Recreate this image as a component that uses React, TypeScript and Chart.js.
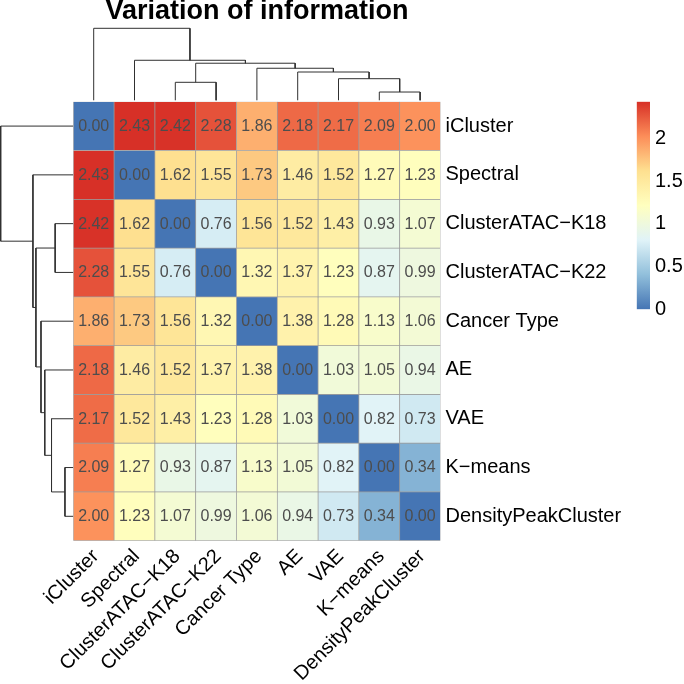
import React, { useEffect, useRef } from "react";
import { Chart, registerables } from "chart.js";

Chart.register(...registerables);
Chart.defaults.font.family = '"Liberation Sans", Arial, Helvetica, sans-serif';
Chart.defaults.color = "#000000";

// ---- data ----
const methodNames = [
  "iCluster",
  "Spectral",
  "ClusterATAC\u2212K18",
  "ClusterATAC\u2212K22",
  "Cancer Type",
  "AE",
  "VAE",
  "K\u2212means",
  "DensityPeakCluster",
];
const rowICluster = [0.0, 2.43, 2.42, 2.28, 1.86, 2.18, 2.17, 2.09, 2.0];
const rowSpectral = [2.43, 0.0, 1.62, 1.55, 1.73, 1.46, 1.52, 1.27, 1.23];
const rowK18 = [2.42, 1.62, 0.0, 0.76, 1.56, 1.52, 1.43, 0.93, 1.07];
const rowK22 = [2.28, 1.55, 0.76, 0.0, 1.32, 1.37, 1.23, 0.87, 0.99];
const rowCancerType = [1.86, 1.73, 1.56, 1.32, 0.0, 1.38, 1.28, 1.13, 1.06];
const rowAE = [2.18, 1.46, 1.52, 1.37, 1.38, 0.0, 1.03, 1.05, 0.94];
const rowVAE = [2.17, 1.52, 1.43, 1.23, 1.28, 1.03, 0.0, 0.82, 0.73];
const rowKMeans = [2.09, 1.27, 0.93, 0.87, 1.13, 1.05, 0.82, 0.0, 0.34];
const rowDPC = [2.0, 1.23, 1.07, 0.99, 1.06, 0.94, 0.73, 0.34, 0.0];
const viMatrix = [rowICluster, rowSpectral, rowK18, rowK22, rowCancerType, rowAE, rowVAE, rowKMeans, rowDPC];

const legendTicks = [0, 0.5, 1, 1.5, 2];
const palette = ["#4575B4", "#91BFDB", "#E0F3F8", "#FFFFBF", "#FEE090", "#FC8D59", "#D73027"];

// hclust-style merges: negative = leaf (1-based), positive = earlier merge (1-based)
const mergeLeft = [-8, -3, -7, -6, -5, 2, -2, -1];
const mergeRight = [-9, -4, 1, 3, 4, 5, 6, 7];
const mergeHeight = [0.115, 0.25, 0.3, 0.393, 0.445, 0.515, 0.556, 1.0];

const TITLE = "Variation of information";

// ---- helpers ----
const vmax = Math.max(...viMatrix.map((r) => Math.max(...r)));

function hexToRgb(h: string) {
  return [parseInt(h.slice(1, 3), 16), parseInt(h.slice(3, 5), 16), parseInt(h.slice(5, 7), 16)];
}
function colorFor(v: number) {
  const t = Math.min(Math.max(v / vmax, 0), 1) * (palette.length - 1);
  const i = Math.min(Math.floor(t), palette.length - 2);
  const f = t - i;
  const a = hexToRgb(palette[i]);
  const b = hexToRgb(palette[i + 1]);
  const c = a.map((x, k) => Math.round(x + (b[k] - x) * f));
  return `rgb(${c[0]},${c[1]},${c[2]})`;
}

function dendroSegments() {
  const pos: number[] = [];
  const hgt: number[] = [];
  const segs: number[][][] = [];
  const get = (id: number) => (id < 0 ? [-id - 1, 0] : [pos[id - 1], hgt[id - 1]]);
  for (let k = 0; k < mergeLeft.length; k++) {
    const [pa, ha] = get(mergeLeft[k]);
    const [pb, hb] = get(mergeRight[k]);
    const h = mergeHeight[k];
    segs.push([
      [pa, ha],
      [pa, h],
      [pb, h],
      [pb, hb],
    ]);
    pos.push((pa + pb) / 2);
    hgt.push(h);
  }
  return segs;
}

// layout (page pixels)
const W = 684;
const GRID_L = 73.3;
const GRID_R = 440.5;
const GRID_T = 101.7;
const GRID_B = 540.7;
const TITLE_SIZE = 27;
const TITLE_LH = 0.85;

const cellTextPlugin = {
  id: "cellText",
  afterDatasetsDraw(chart: any) {
    const ctx = chart.ctx;
    ctx.save();
    ctx.font = '16px "Liberation Sans", Arial, Helvetica, sans-serif';
    ctx.fillStyle = "#4D4D4D";
    ctx.textAlign = "center";
    ctx.textBaseline = "middle";
    chart.data.datasets.forEach((ds: any, r: number) => {
      const meta = chart.getDatasetMeta(r);
      meta.data.forEach((el: any, c: number) => {
        const p = el.getCenterPoint();
        ctx.fillText(viMatrix[r][c].toFixed(2), p.x, p.y + 0.5);
      });
    });
    ctx.restore();
  },
};

const canvasStyle: React.CSSProperties = { position: "absolute", left: 0, top: 0, width: W, height: W };

export default function App() {
  const mainRef = useRef<HTMLCanvasElement>(null);
  const topRef = useRef<HTMLCanvasElement>(null);
  const leftRef = useRef<HTMLCanvasElement>(null);
  const legRef = useRef<HTMLCanvasElement>(null);

  useEffect(() => {
    const charts: Chart[] = [];
    const segs = dendroSegments();
    const lineDs = (pts: number[][], swap: boolean) => ({
      data: pts.map(([p, h]) => (swap ? { x: h, y: p } : { x: p, y: h })),
      showLine: true,
      borderColor: "#303030",
      borderWidth: 1,
      pointRadius: 0,
      pointHoverRadius: 0,
      fill: false,
      tension: 0,
      clip: false as any,
    });

    // top dendrogram
    charts.push(
      new Chart(topRef.current!, {
        type: "scatter",
        data: { datasets: segs.map((s) => lineDs(s, false)) as any },
        options: {
          responsive: false,
          animation: false,
          events: [],
          layout: { padding: { left: GRID_L, right: W - GRID_R, top: 28.3, bottom: W - 100.3 } },
          plugins: { legend: { display: false }, tooltip: { enabled: false } },
          scales: {
            x: { type: "linear", display: false, min: -0.5, max: 8.5 },
            y: { type: "linear", display: false, min: 0, max: 1 },
          },
        },
      })
    );

    // left dendrogram
    charts.push(
      new Chart(leftRef.current!, {
        type: "scatter",
        data: { datasets: segs.map((s) => lineDs(s, true)) as any },
        options: {
          responsive: false,
          animation: false,
          events: [],
          layout: { padding: { left: 0.7, right: W - GRID_L, top: GRID_T, bottom: W - GRID_B } },
          plugins: { legend: { display: false }, tooltip: { enabled: false } },
          scales: {
            x: { type: "linear", display: false, min: 0, max: 1, reverse: true },
            y: { type: "linear", display: false, min: -0.5, max: 8.5, reverse: true },
          },
        },
      })
    );

    // heatmap
    charts.push(
      new Chart(mainRef.current!, {
        type: "bar",
        data: {
          labels: methodNames,
          datasets: viMatrix.map((row, r) => ({
            label: methodNames[r],
            data: row.map(() => [r, r + 1]),
            backgroundColor: row.map(colorFor),
            borderColor: "#9C9C9C",
            borderWidth: 0.7,
            borderSkipped: false,
            grouped: false,
            categoryPercentage: 1,
            barPercentage: 1,
          })) as any,
        },
        options: {
          responsive: false,
          animation: false,
          events: [],
          layout: { padding: { left: GRID_L, top: 0, right: 0, bottom: 0 } },
          plugins: {
            legend: { display: false },
            tooltip: { enabled: false },
            title: {
              display: true,
              text: TITLE,
              fullSize: false,
              color: "#000",
              font: { size: TITLE_SIZE, weight: "bold", lineHeight: TITLE_LH },
              padding: { top: 0, bottom: GRID_T - TITLE_SIZE * TITLE_LH },
            },
          },
          scales: {
            x: {
              type: "category",
              position: "bottom",
              grid: { display: false, drawTicks: false },
              border: { display: false },
              ticks: {
                autoSkip: false,
                maxRotation: 45,
                minRotation: 45,
                padding: 4,
                labelOffset: 2,
                color: "#000",
                font: { size: 20 },
              },
              afterFit: (s: any) => {
                s.height = W - GRID_B;
              },
            },
            y: {
              type: "linear",
              position: "right",
              min: 0,
              max: 9,
              reverse: true,
              grid: { display: false, drawTicks: false },
              border: { display: false },
              afterBuildTicks: (s: any) => {
                s.ticks = methodNames.map((_, i) => ({ value: i + 0.5 }));
              },
              ticks: {
                autoSkip: false,
                padding: 5,
                color: "#000",
                font: { size: 20 },
                callback: (v: any) => methodNames[Math.floor(Number(v))],
              },
              afterFit: (s: any) => {
                s.width = W - GRID_R;
              },
            },
          },
        },
        plugins: [cellTextPlugin],
      })
    );

    // color legend
    charts.push(
      new Chart(legRef.current!, {
        type: "bar",
        data: {
          labels: [""],
          datasets: [
            {
              data: [[0, vmax]] as any,
              backgroundColor: (c: any) => {
                const chart = c.chart;
                if (!chart.chartArea) return palette[3];
                const ys = chart.scales.y;
                const g = chart.ctx.createLinearGradient(0, ys.getPixelForValue(0), 0, ys.getPixelForValue(vmax));
                palette.forEach((col, i) => g.addColorStop(i / (palette.length - 1), col));
                return g;
              },
              borderWidth: 0,
              categoryPercentage: 1,
              barPercentage: 1,
            },
          ],
        },
        options: {
          responsive: false,
          animation: false,
          events: [],
          layout: { padding: { left: 636.7, top: GRID_T, right: 0, bottom: W - 309.3 } },
          plugins: { legend: { display: false }, tooltip: { enabled: false } },
          scales: {
            x: { display: false },
            y: {
              type: "linear",
              position: "right",
              min: 0,
              max: vmax,
              grid: { display: false, drawTicks: false },
              border: { display: false },
              afterBuildTicks: (s: any) => {
                s.ticks = legendTicks.map((v) => ({ value: v }));
              },
              ticks: { padding: 5, color: "#000", font: { size: 20 }, callback: (v: any) => String(v) },
              afterFit: (s: any) => {
                s.width = W - 650;
              },
            },
          },
        },
      })
    );

    return () => charts.forEach((c) => c.destroy());
  }, []);

  return (
    <div style={{ position: "fixed", left: 0, top: 0, width: W, height: W, background: "#ffffff" }}>
      <canvas ref={topRef} width={W} height={W} style={canvasStyle} />
      <canvas ref={leftRef} width={W} height={W} style={canvasStyle} />
      <canvas ref={legRef} width={W} height={W} style={canvasStyle} />
      <canvas ref={mainRef} width={W} height={W} style={canvasStyle} />
    </div>
  );
}
